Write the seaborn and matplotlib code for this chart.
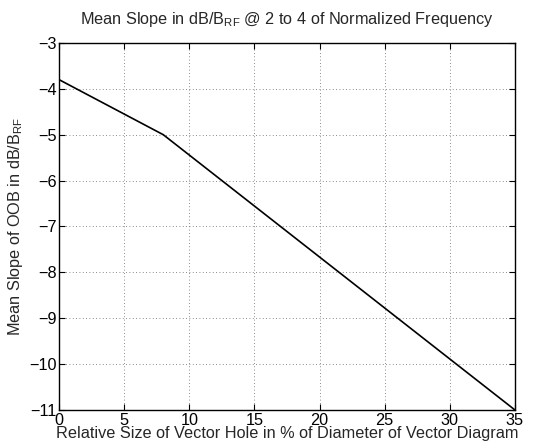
import matplotlib
matplotlib.use("Agg")
import matplotlib.pyplot as plt
import seaborn as sns
import pandas as pd

hole_size = [0, 8, 35]
mean_slope = [-3.8, -5.0, -11.0]
x_ticks = [0, 5, 10, 15, 20, 25, 30, 35]
y_ticks = [-11, -10, -9, -8, -7, -6, -5, -4, -3]

sns.set_style("ticks")
plt.rcParams['font.family'] = ['Liberation Sans', 'DejaVu Sans']
plt.rcParams['mathtext.fontset'] = 'custom'
plt.rcParams['mathtext.rm'] = 'Liberation Sans'
plt.rcParams['mathtext.it'] = 'Liberation Sans:italic'
plt.rcParams['mathtext.bf'] = 'Liberation Sans:bold'

df = pd.DataFrame({"x": hole_size, "y": mean_slope})

fig = plt.figure(figsize=(5.33, 4.48), dpi=100)
ax = fig.add_axes([0.111, 0.085, 0.855, 0.819])
sns.lineplot(data=df, x="x", y="y", color="black", linewidth=1.2, ax=ax)

ax.set_xlim(0, 35)
ax.set_ylim(-11, -3)
ax.set_xticks(x_ticks)
ax.set_yticks(y_ticks)
ax.grid(True, linestyle=(0, (1, 3)), color="#666666", linewidth=0.6)
for s in ax.spines.values():
    s.set_visible(True)
    s.set_linewidth(1.0)
    s.set_color("black")
ax.tick_params(direction="in", top=True, right=True, length=4, width=0.8,
               labelsize=11.7, colors="black")
ax.tick_params(axis="x", pad=2)
ax.tick_params(axis="y", pad=2)

ax.set_xlabel("Relative Size of Vector Hole in % of Diameter of Vector Diagram",
              fontsize=11.7, labelpad=-1)
ax.set_ylabel(r"Mean Slope of OOB in dB/B$_{\mathrm{RF}}$", fontsize=11.7, labelpad=3)
ax.set_title(r"Mean Slope in dB/B$_{\mathrm{RF}}$ @ 2 to 4 of Normalized Frequency",
             fontsize=11.7, pad=14)

fig.savefig("out.png", dpi=100)
